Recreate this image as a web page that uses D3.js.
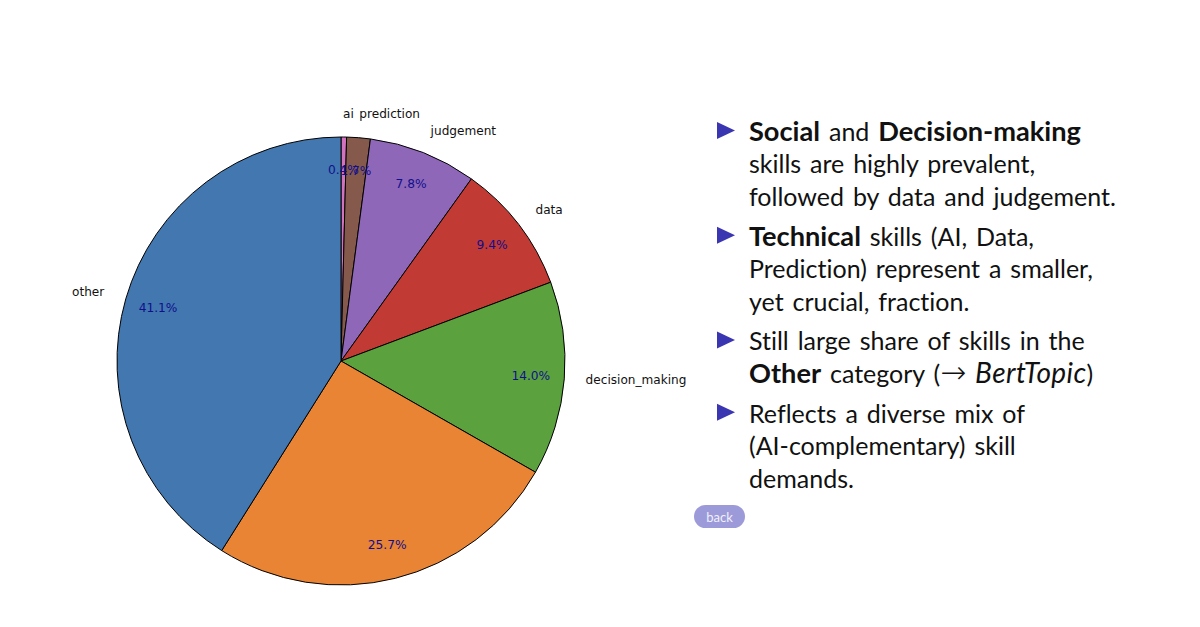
<!DOCTYPE html>
<html>
<head>
<meta charset="utf-8">
<script src="https://cdn.jsdelivr.net/npm/d3@7"></script>
<style>
  html, body { margin: 0; background: #fff; overflow: hidden; }
</style>
</head>
<body>
<svg id="chart" width="1200" height="627"></svg>
<script>
// clockwise from 12 o'clock
const categories = ['ai', 'prediction', 'judgement', 'data', 'decision_making', '', 'other'];
const shares = [0.4, 1.7, 7.8, 9.4, 14.0, 25.7, 41.1];
const sliceColors = ['#d273c0', '#855a4d', '#8e67b8', '#c13a33', '#5ba23f', '#e98434', '#4277b0'];

const bullets = [
  [[['b', 'Social'], ['n', ' and '], ['b', 'Decision-making']], [['n', 'skills are highly prevalent,']], [['n', 'followed by data and judgement.']]],
  [[['b', 'Technical'], ['n', ' skills (AI, Data,']], [['n', 'Prediction) represent a smaller,']], [['n', 'yet crucial, fraction.']]],
  [[['n', 'Still large share of skills in the']], [['b', 'Other'], ['n', ' category ('], ['a', '→'], ['n', ' '], ['i', 'BertTopic'], ['n', ')']]],
  [[['n', 'Reflects a diverse mix of']], [['n', '(AI-complementary) skill']], [['n', 'demands.']]]
];

const svg = d3.select('#chart');
const cx = 341, cy = 361, radius = 224;

const pie = d3.pie().value(d => d.share).sort(null);
const slices = pie(categories.map((name, i) => ({ name, share: shares[i], color: sliceColors[i] })));

const arc = d3.arc().innerRadius(0).outerRadius(radius);
const labelArc = d3.arc().innerRadius(radius * 1.1).outerRadius(radius * 1.1);
const pctArc = d3.arc().innerRadius(radius * 0.85).outerRadius(radius * 0.85);

const g = svg.append('g').attr('transform', `translate(${cx},${cy})`);

g.selectAll('path.slice').data(slices).join('path')
  .attr('class', 'slice')
  .attr('d', arc)
  .attr('fill', d => d.data.color)
  .attr('stroke', '#000')
  .attr('stroke-width', 1);

// category names sit outside the rim
g.selectAll('text.name').data(slices).join('text')
  .attr('class', 'name')
  .attr('x', d => labelArc.centroid(d)[0] - (labelArc.centroid(d)[0] >= 0 ? 1 : 0))
  .attr('y', d => labelArc.centroid(d)[1])
  .attr('text-anchor', d => labelArc.centroid(d)[0] >= 0 ? 'start' : 'end')
  .attr('dy', '0.25em')
  .attr('font-family', 'DejaVu Sans')
  .attr('font-size', 12.1)
  .attr('fill', '#111')
  .text(d => d.data.name);

g.selectAll('text.pct').data(slices).join('text')
  .attr('class', 'pct')
  .attr('x', d => pctArc.centroid(d)[0])
  .attr('y', d => pctArc.centroid(d)[1])
  .attr('text-anchor', 'middle')
  .attr('dy', '0.3em')
  .attr('font-family', 'DejaVu Sans')
  .attr('font-size', 12.2)
  .attr('fill', '#10108c')
  .text(d => d3.format('.1f')(d.data.share) + '%');

// bullet text on the right, bold and italic runs run wider than Lato's
const textX = 749, lineStep = 32.4, groupGap = 7.5;
const runSize = { n: 25, b: 27.2, i: 28, a: 31 };
let baseline = 141;
const body = svg.append('g');

bullets.forEach(lines => {
  body.append('path')
    .attr('d', `M717,${baseline - 19}L735,${baseline - 10.5}L717,${baseline - 2}Z`)
    .attr('fill', '#3a36b2');
  lines.forEach(runs => {
    const t = body.append('text')
      .attr('x', textX)
      .attr('y', baseline)
      .attr('font-family', 'Lato')
      .attr('fill', '#111')
      .style('font-variant-ligatures', 'none')
      .style('word-spacing', '2.5px')
      .style('white-space', 'pre');
    runs.forEach(([kind, str]) => {
      t.append('tspan')
        .attr('font-family', kind === 'a' ? 'DejaVu Sans' : 'Lato')
        .attr('font-size', runSize[kind])
        .attr('font-weight', kind === 'b' ? 700 : kind === 'a' ? 200 : 400)
        .attr('font-style', kind === 'i' ? 'italic' : 'normal')
        .style('letter-spacing', kind === 'i' ? '0.4px' : null)
        .text(str);
    });
    baseline += lineStep;
  });
  baseline += groupGap;
});

// beamer back button
svg.append('rect')
  .attr('x', 694).attr('y', 505)
  .attr('width', 51).attr('height', 23)
  .attr('rx', 11.5)
  .attr('fill', '#9c9ad9');
svg.append('text')
  .attr('x', 719.5).attr('y', 522)
  .attr('text-anchor', 'middle')
  .attr('font-family', 'Lato')
  .attr('font-size', 13)
  .attr('fill', '#f0f0fa')
  .text('back');
</script>
</body>
</html>
